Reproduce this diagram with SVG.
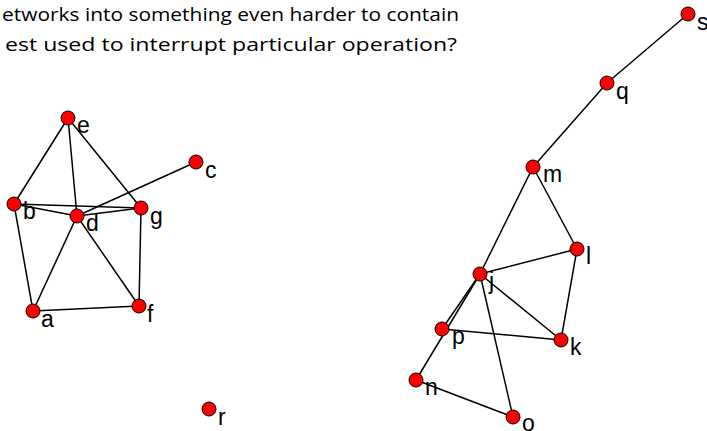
<svg xmlns="http://www.w3.org/2000/svg" width="707" height="431" viewBox="0 0 707 431">
<style>
.bg{fill:#ffffff}
.edge{stroke:#000000;stroke-width:1.5;fill:none}
.node circle{fill:#ff0000;stroke:#000000;stroke-width:1}
.node text{font-family:"Liberation Sans",Arial,sans-serif;font-size:23px;fill:#000000}
.cap{font-family:"Open Sans","Liberation Sans",sans-serif;font-size:19px;fill:#000000}
</style>
<rect class="bg" x="0" y="0" width="707" height="431"/>
<g id="caption">
<text class="cap" x="2" y="21" textLength="457" lengthAdjust="spacingAndGlyphs">etworks into something even harder to contain</text>
<text class="cap" x="5" y="51" textLength="452" lengthAdjust="spacingAndGlyphs">est used to interrupt particular operation?</text>
</g>
<g id="connectors">
<line class="edge" x1="68" y1="118" x2="14" y2="204"/>
<line class="edge" x1="68" y1="118" x2="77" y2="216"/>
<line class="edge" x1="68" y1="118" x2="141" y2="208"/>
<line class="edge" x1="14" y1="204" x2="77" y2="216"/>
<line class="edge" x1="14" y1="204" x2="141" y2="208"/>
<line class="edge" x1="77" y1="216" x2="141" y2="208"/>
<line class="edge" x1="77" y1="216" x2="196" y2="162"/>
<line class="edge" x1="14" y1="204" x2="33" y2="311"/>
<line class="edge" x1="77" y1="216" x2="33" y2="311"/>
<line class="edge" x1="77" y1="216" x2="139" y2="306"/>
<line class="edge" x1="141" y1="208" x2="139" y2="306"/>
<line class="edge" x1="33" y1="311" x2="139" y2="306"/>
<line class="edge" x1="688" y1="14" x2="607" y2="83"/>
<line class="edge" x1="607" y1="83" x2="533" y2="167"/>
<line class="edge" x1="533" y1="167" x2="480" y2="274"/>
<line class="edge" x1="533" y1="167" x2="577" y2="249"/>
<line class="edge" x1="577" y1="249" x2="480" y2="274"/>
<line class="edge" x1="577" y1="249" x2="561" y2="340"/>
<line class="edge" x1="480" y1="274" x2="561" y2="340"/>
<line class="edge" x1="480" y1="274" x2="442" y2="329"/>
<line class="edge" x1="480" y1="274" x2="416" y2="380"/>
<line class="edge" x1="442" y1="329" x2="561" y2="340"/>
<line class="edge" x1="480" y1="274" x2="513" y2="417"/>
<line class="edge" x1="416" y1="380" x2="513" y2="417"/>
</g>
<g id="node-e" class="node"><circle cx="68" cy="118" r="7"/><text x="77" y="133">e</text></g>
<g id="node-b" class="node"><circle cx="14" cy="204" r="7"/><text x="23" y="219">b</text></g>
<g id="node-d" class="node"><circle cx="77" cy="216" r="7"/><text x="86" y="231">d</text></g>
<g id="node-g" class="node"><circle cx="141" cy="208" r="7"/><text x="150" y="224">g</text></g>
<g id="node-c" class="node"><circle cx="196" cy="162" r="7"/><text x="205" y="178">c</text></g>
<g id="node-a" class="node"><circle cx="33" cy="311" r="7"/><text x="41" y="327">a</text></g>
<g id="node-f" class="node"><circle cx="139" cy="306" r="7"/><text x="147" y="322">f</text></g>
<g id="node-r" class="node"><circle cx="209" cy="409" r="7"/><text x="218" y="425">r</text></g>
<g id="node-s" class="node"><circle cx="688" cy="14" r="7"/><text x="697" y="30">s</text></g>
<g id="node-q" class="node"><circle cx="607" cy="83" r="7"/><text x="616" y="99">q</text></g>
<g id="node-m" class="node"><circle cx="533" cy="167" r="7"/><text x="543" y="182">m</text></g>
<g id="node-l" class="node"><circle cx="577" cy="249" r="7"/><text x="586" y="264">l</text></g>
<g id="node-j" class="node"><circle cx="480" cy="274" r="7"/><text x="489" y="289">j</text></g>
<g id="node-p" class="node"><circle cx="442" cy="329" r="7"/><text x="452" y="344">p</text></g>
<g id="node-k" class="node"><circle cx="561" cy="340" r="7"/><text x="570" y="355">k</text></g>
<g id="node-n" class="node"><circle cx="416" cy="380" r="7"/><text x="425" y="395">n</text></g>
<g id="node-o" class="node"><circle cx="513" cy="417" r="7"/><text x="522" y="431">o</text></g>
</svg>
